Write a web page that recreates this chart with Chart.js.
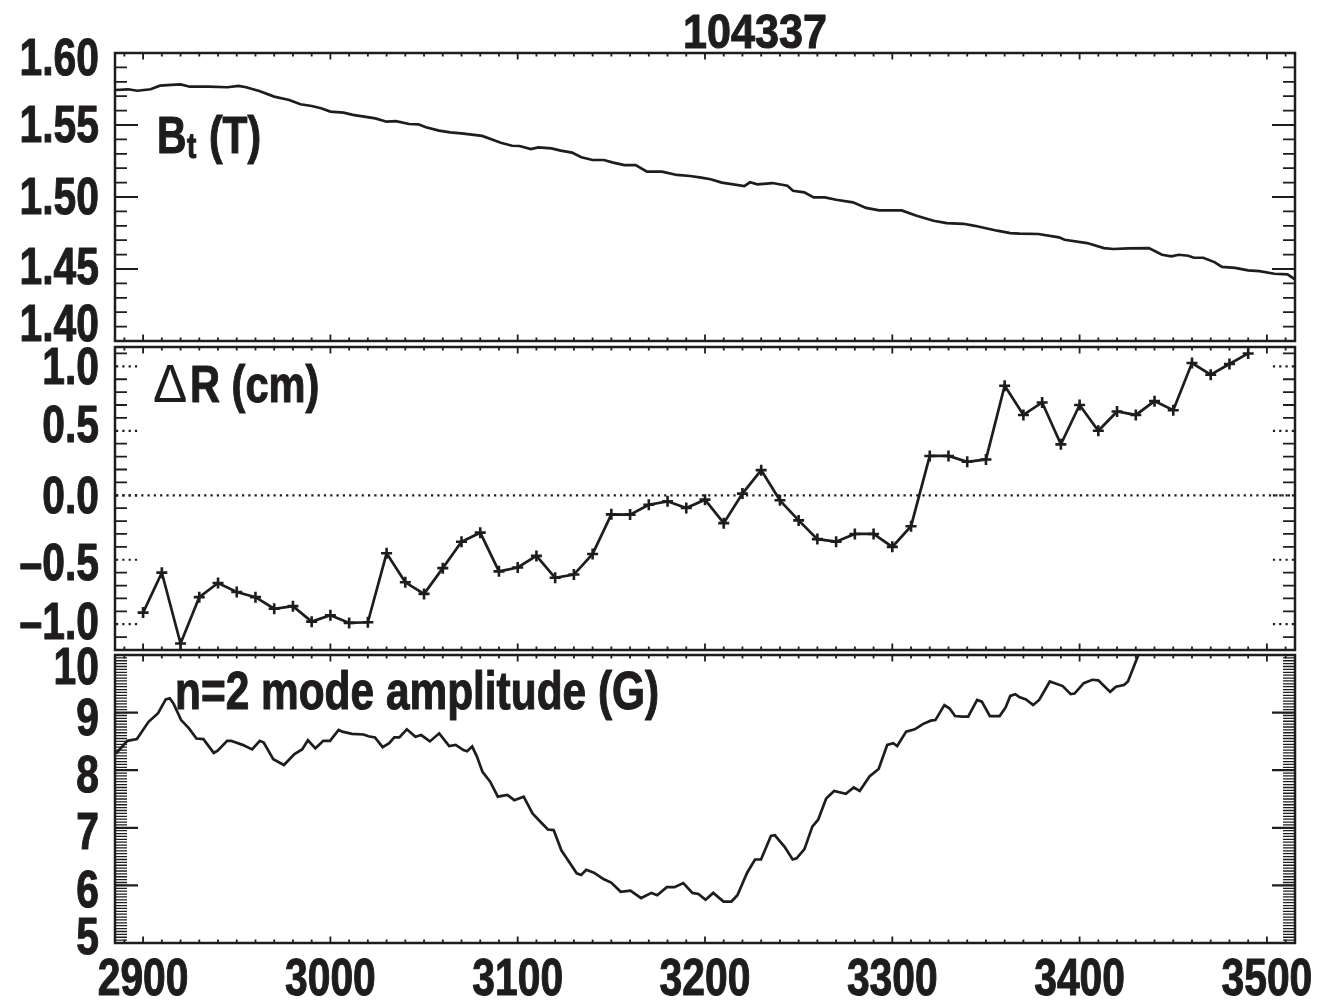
<!DOCTYPE html>
<html>
<head>
<meta charset="utf-8">
<title>104337</title>
<script src="https://cdn.jsdelivr.net/npm/chart.js@4/dist/chart.umd.min.js"></script>
<style>
  html, body { margin: 0; padding: 0; background: #ffffff; }
  #stack { position: relative; width: 1321px; height: 1000px; }
  #stack canvas { position: absolute; left: 0; top: 0; }
</style>
</head>
<body>
<div id="stack">
  <canvas id="btPanel" width="1321" height="1000"></canvas>
  <canvas id="drPanel" width="1321" height="1000"></canvas>
  <canvas id="modePanel" width="1321" height="1000"></canvas>
</div>
<script>
// ---- shot and shared time axis (ms) ----
const shotNumber = '104337';
const timeRange = [2885, 3515];
const timeTicks = [2900, 3000, 3100, 3200, 3300, 3400, 3500];
const timeTickLabels = ['2900', '3000', '3100', '3200', '3300', '3400', '3500'];

// ---- toroidal field B_t (T) ----
const btTime = [
  2885, 2892, 2897, 2904, 2909, 2915, 2920, 2925, 2935, 2945, 2951, 2955, 2962, 2970, 2978,
  2984, 2990, 2995, 3000, 3007, 3012, 3024, 3030, 3035, 3042, 3047, 3051, 3058, 3064, 3070,
  3081, 3087, 3091, 3097, 3101, 3107, 3111, 3118, 3123, 3129, 3134, 3140, 3146, 3151, 3157,
  3163, 3169, 3177, 3185, 3192, 3198, 3203, 3209, 3221, 3224, 3228, 3236, 3244, 3247, 3253,
  3258, 3264, 3270, 3279, 3286, 3293, 3305, 3313, 3322, 3329, 3338, 3344, 3356, 3363, 3368,
  3378, 3389, 3392, 3404, 3413, 3418, 3426, 3437, 3444, 3449, 3453, 3458, 3461, 3466, 3472,
  3476, 3483, 3490, 3496, 3504, 3511, 3515
];
const btValue = [
  1.5743, 1.5748, 1.5738, 1.5748, 1.5773, 1.5778, 1.5782, 1.5766, 1.5766, 1.5762, 1.5771, 1.5762, 1.5736, 1.5697, 1.5674,
  1.5644, 1.5632, 1.5616, 1.5593, 1.5586, 1.5570, 1.5546, 1.5523, 1.5527, 1.5507, 1.5505, 1.5484, 1.5461, 1.5449, 1.5442,
  1.5424, 1.5396, 1.5377, 1.5356, 1.5354, 1.5333, 1.5345, 1.5338, 1.5322, 1.5308, 1.5276, 1.5257, 1.5257, 1.5239, 1.5222,
  1.5222, 1.5176, 1.5176, 1.5153, 1.5146, 1.5134, 1.5123, 1.5100, 1.5076, 1.5102, 1.5088, 1.5097, 1.5078, 1.5043, 1.5032,
  1.4997, 1.4997, 1.4981, 1.4963, 1.4924, 1.4907, 1.4907, 1.4870, 1.4835, 1.4819, 1.4814, 1.4800, 1.4766, 1.4749, 1.4745,
  1.4743, 1.4720, 1.4703, 1.4680, 1.4645, 1.4639, 1.4643, 1.4645, 1.4599, 1.4588, 1.4599, 1.4592, 1.4578, 1.4578, 1.4548,
  1.4515, 1.4508, 1.4490, 1.4485, 1.4467, 1.4463, 1.4428
];
const btTicks = [1.40, 1.45, 1.50, 1.55, 1.60];
const btTickLabels = ['1.40', '1.45', '1.50', '1.55', '1.60'];

// ---- plasma shift ΔR (cm), one sample every 10 ms ----
const drTime = [
  2900, 2910, 2920, 2930, 2940, 2950, 2960, 2970, 2980, 2990,
  3000, 3010, 3020, 3030, 3040, 3050, 3060, 3070, 3080, 3090,
  3100, 3110, 3120, 3130, 3140, 3150, 3160, 3170, 3180, 3190,
  3200, 3210, 3220, 3230, 3240, 3250, 3260, 3270, 3280, 3290,
  3300, 3310, 3320, 3330, 3340, 3350, 3360, 3370, 3380, 3390,
  3400, 3410, 3420, 3430, 3440, 3450, 3460, 3470, 3480, 3490
];
const drValue = [
  -0.91, -0.60, -1.15, -0.79, -0.68, -0.75, -0.79, -0.88, -0.86, -0.98,
  -0.93, -0.99, -0.985, -0.45, -0.675, -0.765, -0.565, -0.36, -0.29, -0.59,
  -0.56, -0.47, -0.64, -0.615, -0.455, -0.148, -0.15, -0.073, -0.047, -0.099,
  -0.034, -0.216, 0.013, 0.195, -0.039, -0.195, -0.34, -0.36, -0.30, -0.30,
  -0.40, -0.24, 0.305, 0.305, 0.26, 0.278, 0.85, 0.623, 0.72, 0.395,
  0.70, 0.50, 0.65, 0.623, 0.73, 0.66, 1.026, 0.935, 1.018, 1.10
];
const drTicks = [-1.0, -0.5, 0.0, 0.5, 1.0];
const drTickLabels = ['\u20131.0', '\u20130.5', '0.0', '0.5', '1.0'];

// ---- n=2 mode amplitude (G) ----
const modeTime = [
  2885.5, 2891.6, 2896.7, 2902.9, 2908.0, 2912.1, 2914.2, 2916.2, 2920.3, 2924.4, 2928.5, 2932.2, 2937.7, 2939.8, 2944.9,
  2947.0, 2953.1, 2958.2, 2962.3, 2964.4, 2969.5, 2975.2, 2980.8, 2984.9, 2988.0, 2992.0, 2996.2, 2999.8, 3004.4, 3006.4,
  3011.5, 3017.7, 3020.3, 3023.8, 3027.9, 3031.4, 3034.1, 3036.8, 3040.8, 3045.4, 3048.5, 3053.1, 3058.1, 3063.4, 3066.9,
  3071.0, 3073.0, 3075.7, 3078.2, 3081.2, 3085.3, 3089.4, 3094.5, 3098.2, 3103.2, 3107.9, 3112.0, 3116.1, 3119.2, 3123.3,
  3127.4, 3131.5, 3133.9, 3136.6, 3140.7, 3145.8, 3149.9, 3155.0, 3160.2, 3165.9, 3171.4, 3174.5, 3179.6, 3183.7, 3188.4,
  3193.3, 3196.5, 3200.3, 3204.4, 3209.9, 3214.1, 3217.3, 3222.5, 3226.7, 3229.9, 3235.2, 3237.3, 3242.5, 3246.8, 3248.9,
  3253.1, 3257.3, 3260.4, 3264.7, 3268.9, 3275.2, 3279.4, 3282.6, 3287.8, 3292.7, 3297.3, 3300.5, 3302.6, 3307.4, 3312.0,
  3316.3, 3320.5, 3323.0, 3327.8, 3330.6, 3333.5, 3337.3, 3340.5, 3345.3, 3347.8, 3352.1, 3357.3, 3360.5, 3363.0, 3365.7,
  3367.8, 3371.4, 3375.2, 3378.4, 3384.1, 3386.8, 3391.0, 3395.2, 3397.3, 3402.2, 3406.8, 3410.0, 3416.3, 3419.4, 3423.7,
  3425.8, 3431.0, 3436.0
];
const modeAmp = [
  8.29, 8.51, 8.54, 8.84, 8.99, 9.23, 9.25, 9.16, 8.87, 8.73, 8.55, 8.54, 8.30, 8.34, 8.51,
  8.51, 8.44, 8.36, 8.51, 8.48, 8.19, 8.09, 8.28, 8.36, 8.52, 8.38, 8.51, 8.51, 8.70, 8.67,
  8.63, 8.62, 8.59, 8.57, 8.40, 8.47, 8.57, 8.57, 8.71, 8.58, 8.61, 8.50, 8.64, 8.42, 8.44,
  8.35, 8.33, 8.41, 8.24, 7.97, 7.80, 7.54, 7.57, 7.48, 7.54, 7.25, 7.11, 6.97, 6.96, 6.61,
  6.41, 6.21, 6.18, 6.27, 6.22, 6.11, 6.05, 5.89, 5.91, 5.78, 5.87, 5.83, 5.97, 5.97, 6.04,
  5.87, 5.85, 5.75, 5.87, 5.72, 5.72, 5.83, 6.22, 6.45, 6.45, 6.86, 6.87, 6.67, 6.45, 6.47,
  6.63, 7.02, 7.14, 7.51, 7.64, 7.59, 7.70, 7.64, 7.89, 8.02, 8.44, 8.47, 8.42, 8.67, 8.71,
  8.80, 8.86, 8.87, 9.13, 9.07, 8.94, 8.93, 8.93, 9.22, 9.19, 8.94, 8.94, 9.09, 9.29, 9.32,
  9.27, 9.23, 9.13, 9.22, 9.54, 9.51, 9.46, 9.32, 9.33, 9.51, 9.57, 9.56, 9.36, 9.45, 9.48,
  9.54, 9.97, 10.30
];
const modeTicks = [5, 6, 7, 8, 9, 10];
const modeTickLabels = ['5', '6', '7', '8', '9', '10'];

// ---- drawing style ----
const INK = '#1f1c1d';
const FACE = "'Liberation Sans', Arial, Helvetica, sans-serif";
const SQUEEZE = 0.8;          // condensed look of the lettering
const PLOT_LEFT = 115, PLOT_RIGHT = 1295;
const LABEL_SIZE = 51;
const TRACE_WIDTH = 2.7;

function pairs(xs, ys) { return xs.map((x, i) => ({ x: x, y: ys[i] })); }

// Heavy, horizontally condensed text; returns the drawn width.
function narrowText(ctx, str, x, y, size, align, weight, squeeze) {
  const sq = squeeze || SQUEEZE;
  const w8 = weight || 'bold';
  ctx.save();
  ctx.font = w8 + ' ' + size + 'px ' + FACE;
  ctx.fillStyle = INK;
  ctx.strokeStyle = INK;
  ctx.lineJoin = 'round';
  ctx.textBaseline = 'alphabetic';
  ctx.textAlign = align || 'left';
  ctx.translate(x, y);
  ctx.scale(sq, 1);
  ctx.fillText(str, 0, 0);
  if (w8 === 'bold') {
    ctx.lineWidth = 1.1;
    ctx.strokeText(str, 0, 0);
  }
  const w = ctx.measureText(str).width * sq;
  ctx.restore();
  return w;
}

// Frame, inward tick marks, axis numbers and panel caption for one panel.
function panelDecor(cfg) {
  return {
    id: 'panelDecor',
    afterDatasetsDraw(chart) {
      const ctx = chart.ctx, a = chart.chartArea;
      const xs = chart.scales.x, ys = chart.scales.y;
      ctx.save();
      ctx.strokeStyle = INK;
      ctx.lineCap = 'butt';

      // time ticks on top and bottom edges
      ctx.lineWidth = 1.8;
      ctx.beginPath();
      for (let t = 2890; t <= 3510; t += 10) {
        const px = xs.getPixelForValue(t);
        const len = (t % 100 === 0) ? 6.5 : 3.5;
        ctx.moveTo(px, a.top); ctx.lineTo(px, a.top + len);
        ctx.moveTo(px, a.bottom); ctx.lineTo(px, a.bottom - len);
      }
      ctx.stroke();

      // minor value ticks on left and right edges
      const k0 = Math.ceil(cfg.yMin / cfg.minorStep - 1e-6);
      const k1 = Math.floor(cfg.yMax / cfg.minorStep + 1e-6);
      ctx.lineWidth = cfg.minorWidth || 1.8;
      ctx.beginPath();
      for (let k = k0; k <= k1; k++) {
        const v = k * cfg.minorStep;
        if (cfg.dottedMajor && cfg.ticks.some(m => Math.abs(m - v) < 1e-6)) continue;
        const py = ys.getPixelForValue(v);
        ctx.moveTo(a.left, py); ctx.lineTo(a.left + 12, py);
        ctx.moveTo(a.right, py); ctx.lineTo(a.right - 12, py);
      }
      ctx.stroke();

      // major value ticks
      ctx.lineWidth = 2.2;
      if (cfg.dottedMajor) ctx.setLineDash([2.2, 4.1]);
      ctx.beginPath();
      cfg.ticks.forEach(v => {
        const py = ys.getPixelForValue(v);
        ctx.moveTo(a.left + 1, py); ctx.lineTo(a.left + 23, py);
        ctx.moveTo(a.right - 1, py); ctx.lineTo(a.right - 23, py);
      });
      ctx.stroke();

      // dotted zero reference
      if (cfg.zeroLine) {
        const p0 = ys.getPixelForValue(0);
        ctx.beginPath();
        ctx.moveTo(a.left + 1, p0); ctx.lineTo(a.right - 1, p0);
        ctx.stroke();
      }
      ctx.setLineDash([]);

      // frame
      ctx.lineWidth = 2.5;
      ctx.strokeRect(a.left, a.top, a.right - a.left, a.bottom - a.top);
      ctx.restore();
    },
    afterDraw(chart) {
      const ctx = chart.ctx;
      const xs = chart.scales.x, ys = chart.scales.y;
      // value axis numbers
      cfg.ticks.forEach((v, i) => {
        const py = ys.getPixelForValue(v) + cfg.labelNudge[i];
        narrowText(ctx, cfg.tickLabels[i], 99, py + 0.358 * LABEL_SIZE, LABEL_SIZE, 'right');
      });
      // time axis numbers under the last panel
      if (cfg.timeLabels) {
        timeTicks.forEach((t, i) => {
          narrowText(ctx, timeTickLabels[i], xs.getPixelForValue(t), 995, LABEL_SIZE, 'center');
        });
      }
      if (cfg.caption) cfg.caption(ctx);
    }
  };
}

function makePanel(canvasId, cfg, dataset) {
  return new Chart(document.getElementById(canvasId), {
    type: 'line',
    data: { datasets: [dataset] },
    options: {
      responsive: false,
      animation: false,
      devicePixelRatio: 1,
      events: [],
      layout: { padding: { left: PLOT_LEFT, right: 1321 - PLOT_RIGHT, top: cfg.top, bottom: 1000 - cfg.bottom } },
      plugins: { legend: { display: false }, tooltip: { enabled: false }, title: { display: false } },
      scales: {
        x: { type: 'linear', min: timeRange[0], max: timeRange[1], display: false },
        y: { type: 'linear', min: cfg.yMin, max: cfg.yMax, display: false }
      }
    },
    plugins: [panelDecor(cfg)]
  });
}

// B_t panel
makePanel('btPanel', {
  top: 53, bottom: 341, yMin: 1.40, yMax: 1.60, minorStep: 0.01,
  ticks: btTicks, tickLabels: btTickLabels, labelNudge: [-18.5, -3, -1.5, -1, 3.5],
  caption(ctx) {
    narrowText(ctx, shotNumber, 755, 48, 49, 'center', 'bold', 0.88);
    narrowText(ctx, 'B', 157, 153, 51, 'left');
    narrowText(ctx, 't', 187, 158, 35, 'left');
    narrowText(ctx, '(T)', 209, 153, 51, 'left');
  }
}, {
  data: pairs(btTime, btValue),
  borderColor: INK, borderWidth: TRACE_WIDTH, pointRadius: 0, tension: 0, fill: false
});

// ΔR panel
makePanel('drPanel', {
  top: 347, bottom: 650, yMin: -1.2, yMax: 1.15, minorStep: 0.1,
  ticks: drTicks, tickLabels: drTickLabels, labelNudge: [-3.5, 1.5, -1, -7, -0.7],
  dottedMajor: true, zeroLine: true,
  caption(ctx) {
    narrowText(ctx, '\u0394', 153, 402, 54, 'left', 'normal', 0.95);
    narrowText(ctx, 'R (cm)', 190, 402, 52, 'left');
  }
}, {
  data: pairs(drTime, drValue),
  borderColor: INK, borderWidth: TRACE_WIDTH, tension: 0, fill: false,
  pointStyle: 'cross', pointRadius: 5.5, pointBorderWidth: 2.6, pointBorderColor: INK
});

// mode amplitude panel
makePanel('modePanel', {
  top: 655, bottom: 943, yMin: 5, yMax: 10, minorStep: 0.05, minorWidth: 1.3,
  ticks: modeTicks, tickLabels: modeTickLabels, labelNudge: [-7, 3.5, 3, 3.5, 4.4, 11],
  timeLabels: true,
  caption(ctx) {
    narrowText(ctx, 'n=2 mode amplitude (G)', 175, 709, 53, 'left');
  }
}, {
  data: pairs(modeTime, modeAmp),
  borderColor: INK, borderWidth: TRACE_WIDTH, pointRadius: 0, tension: 0, fill: false
});
</script>
</body>
</html>
